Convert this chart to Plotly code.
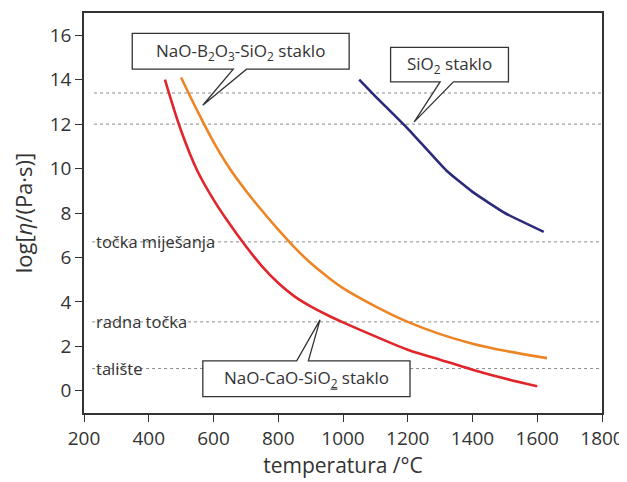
import plotly.graph_objects as go

# ---- data ----
temp_nacao = [450, 500, 550, 600, 650, 700, 750, 800, 850, 900, 950, 1000, 1100, 1200, 1300, 1400, 1500, 1600]
visc_nacao = [14.0, 11.7, 9.9, 8.6, 7.5, 6.5, 5.6, 4.85, 4.25, 3.8, 3.42, 3.08, 2.45, 1.85, 1.4, 0.95, 0.55, 0.2]

temp_nab = [500, 550, 600, 650, 700, 750, 800, 850, 900, 950, 1000, 1100, 1200, 1300, 1400, 1500, 1630]
visc_nab = [14.1, 12.6, 11.2, 10.0, 9.0, 8.1, 7.25, 6.45, 5.75, 5.15, 4.62, 3.8, 3.1, 2.55, 2.12, 1.8, 1.47]

temp_sio2 = [1050, 1100, 1200, 1320, 1400, 1500, 1620]
visc_sio2 = [14.0, 13.25, 11.8, 9.9, 8.95, 8.0, 7.15]

ref_levels = [13.4, 12.0, 6.7, 3.1, 1.0]
ref_labels = ["", "", "točka miješanja", "radna točka", "talište"]

x_ticks = [200, 400, 600, 800, 1000, 1200, 1400, 1600, 1800]
y_ticks = [0, 2, 4, 6, 8, 10, 12, 14, 16]

FONT = "Open Sans"
TXT = "#333333"

fig = go.Figure()

# reference dotted lines
for lvl in ref_levels:
    x0 = 231 if lvl > 10 else 225
    fig.add_shape(type="line", xref="x", yref="y", x0=x0, x1=1800, y0=lvl, y1=lvl,
                  line=dict(color="#8a8a8a", width=1, dash="dot"), layer="below")
for lvl, lab in zip(ref_levels, ref_labels):
    if lab:
        fig.add_annotation(x=231, y=lvl, xref="x", yref="y", text=lab, showarrow=False,
                           xanchor="left", yanchor="middle", yshift=0,
                           font=dict(family=FONT, size=16.5, color=TXT))

fig.add_trace(go.Scatter(x=temp_nacao, y=visc_nacao, mode="lines",
                         line=dict(color="#e0262b", width=2.6, shape="spline", smoothing=1.0),
                         showlegend=False))
fig.add_trace(go.Scatter(x=temp_nab, y=visc_nab, mode="lines",
                         line=dict(color="#ee8524", width=2.6, shape="spline", smoothing=1.0),
                         showlegend=False))
fig.add_trace(go.Scatter(x=temp_sio2, y=visc_sio2, mode="lines",
                         line=dict(color="#2c2a7c", width=2.6, shape="spline", smoothing=0.4),
                         showlegend=False))


def callout(left, right, top, bottom, b0, b1, tipx, tipy, text, pointer_down):
    if pointer_down:
        path = (f"M {left},{top} L {right},{top} L {right},{bottom} L {b1},{bottom} "
                f"L {tipx},{tipy} L {b0},{bottom} L {left},{bottom} Z")
    else:
        path = (f"M {left},{top} L {b0},{top} L {tipx},{tipy} L {b1},{top} "
                f"L {right},{top} L {right},{bottom} L {left},{bottom} Z")
    fig.add_shape(type="path", xref="x", yref="y", path=path,
                  fillcolor="white", line=dict(color="#333333", width=1.3))
    fig.add_annotation(x=(left + right) / 2, y=(top + bottom) / 2, xref="x", yref="y",
                       text=text, showarrow=False, xanchor="center", yanchor="middle",
                       font=dict(family=FONT, size=17, color=TXT))


callout(349, 1019, 16.08, 14.47, 661, 702, 567, 12.85,
        "NaO-B<sub>2</sub>O<sub>3</sub>-SiO<sub>2</sub> staklo", True)
callout(1147, 1511, 15.45, 13.9, 1300, 1341, 1220, 12.1,
        "SiO<sub>2</sub> staklo", True)
callout(567, 1207, 1.35, -0.26, 857, 893, 929, 3.19,
        "NaO-CaO-SiO<sub><u>2</u></sub> staklo", False)

axis_common = dict(showline=True, linecolor="#333333", linewidth=1.5, mirror=True,
                   ticks="outside", ticklen=7, tickwidth=1.3, tickcolor="#333333",
                   showgrid=False, zeroline=False, automargin=False,
                   tickfont=dict(family=FONT, size=19, color=TXT))

fig.update_xaxes(range=[200, 1800], tickvals=x_ticks, **axis_common,
                 title=dict(text="temperatura /°C", font=dict(family=FONT, size=21, color=TXT),
                            standoff=8))
fig.update_yaxes(range=[-1, 17], tickvals=y_ticks, **axis_common,
                 title=dict(text="log[<i>η</i>/(Pa·s)]", font=dict(family=FONT, size=22, color=TXT),
                            standoff=13))

# page body adds an 8px offset, so the figure is sized to fit the window
fig.update_layout(width=619, height=474, margin=dict(l=76, r=25, t=5, b=69),
                  plot_bgcolor="white", paper_bgcolor="white", showlegend=False)

fig.write_html("out.html")
